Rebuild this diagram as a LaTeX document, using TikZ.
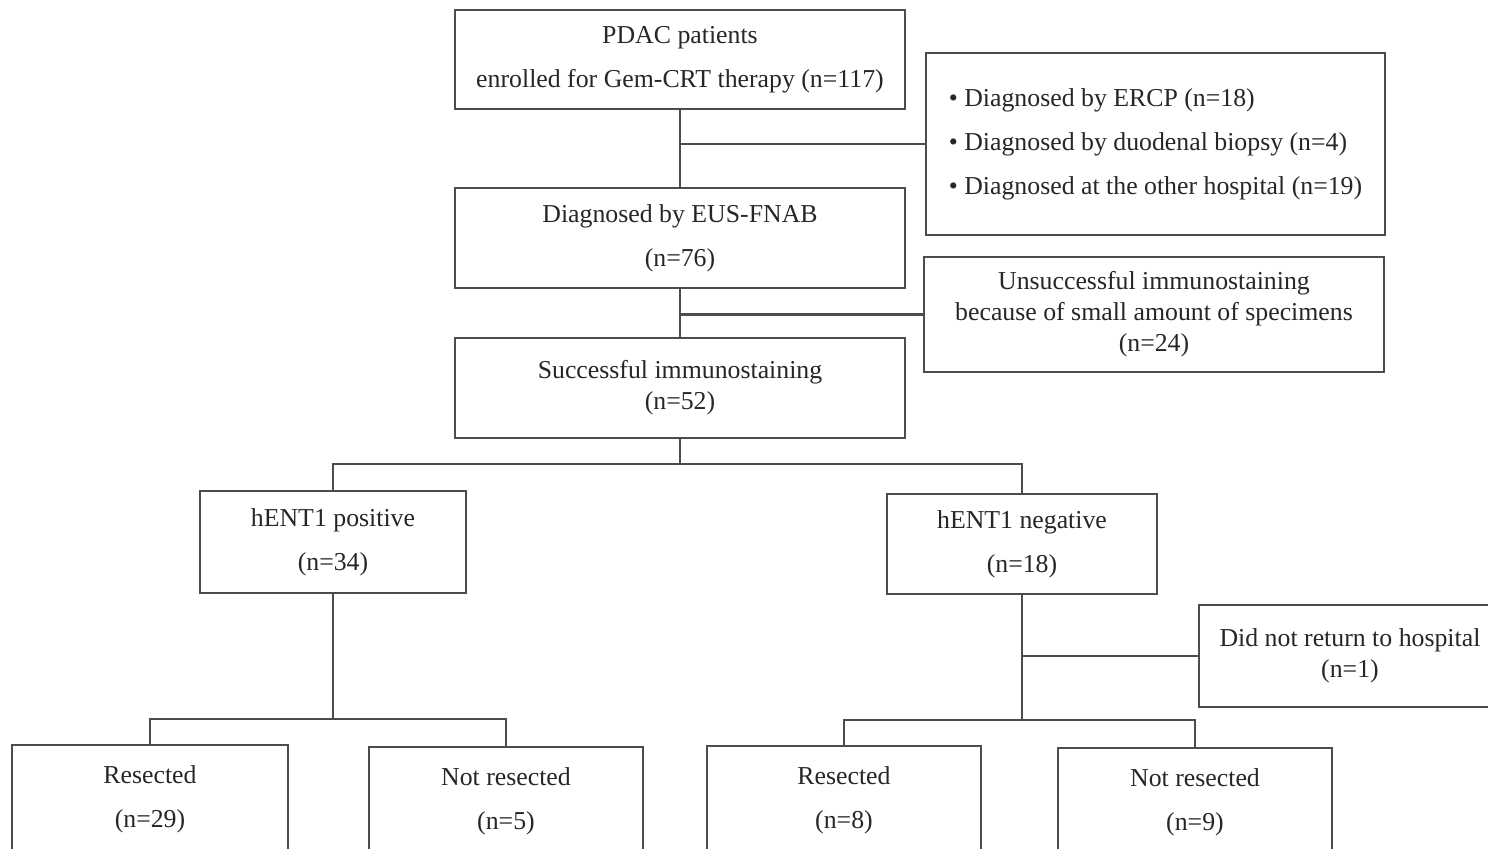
\documentclass[tikz,border=0pt]{standalone}
\usepackage{fontspec}
\setmainfont{Liberation Serif}
\usetikzlibrary{positioning}

\begin{document}
\begin{tikzpicture}[x=0.5pt,y=-0.5pt,
	box/.style={rectangle,draw=black!70,line width=1.3pt,anchor=north west,inner sep=0pt,outer sep=0pt,align=center,text=black!85,font=\fontsize{12.9}{22}\selectfont},
	tight/.style={font=\fontsize{12.9}{15.5}\selectfont},
	link/.style={draw=black!70,line width=1.3pt}]
				\useasboundingbox (0,0) rectangle (1488,849);
				\node (pdac) [box,minimum width=225pt,minimum height=49.5pt] at (455,10) {PDAC patients\\enrolled for Gem-CRT therapy (n=117)};
				\node (other) [box,align=left,minimum width=229.5pt,minimum height=91pt] at (926,53) {\textbullet\ Diagnosed by ERCP (n=18)\\\textbullet\ Diagnosed by duodenal biopsy (n=4)\\\textbullet\ Diagnosed at the other hospital (n=19)};
				\node (eus) [box,minimum width=225pt,minimum height=50pt] at (455,188) {Diagnosed by EUS-FNAB\\(n=76)};
				\node (fail) [box,tight,minimum width=230pt,minimum height=57.5pt] at (924,257) {Unsuccessful immunostaining\\because of small amount of specimens\\(n=24)};
				\node (succ) [box,tight,minimum width=225pt,minimum height=50pt] at (455,338) {Successful immunostaining\\(n=52)};
				\node (pos) [box,minimum width=133pt,minimum height=51pt] at (200,491) {hENT1 positive\\(n=34)};
				\node (neg) [box,minimum width=135pt,minimum height=50pt] at (887,494) {hENT1 negative\\(n=18)};
				\node (lost) [box,tight,minimum width=151pt,minimum height=51pt] at (1199,605) {Did not return to hospital\\(n=1)};
				\node (resp) [box,minimum width=138pt,minimum height=54pt] at (12,745) {Resected\\(n=29)};
				\node (nresp) [box,minimum width=137pt,minimum height=54pt] at (369,747) {Not resected\\(n=5)};
				\node (resn) [box,minimum width=137pt,minimum height=54pt] at (707,746) {Resected\\(n=8)};
				\node (nresn) [box,minimum width=137pt,minimum height=54pt] at (1058,748) {Not resected\\(n=9)};
				\coordinate (split) at (680,464);
				\coordinate (splitp) at (333,719);
				\coordinate (splitn) at (1022,720);
				\draw [link](pdac) -- (eus);
				\draw [link](pdac.south |- other.west) -- (other.west);
				\draw [link](eus) -- (succ);
				\draw [link](eus.south |- fail.west) -- (fail.west);
				\draw [link](succ.south) -- (split);
				\draw [link](pos.north) |- (split) -| (neg.north);
				\draw [link](pos.south) -- (splitp);
				\draw [link](resp.north) |- (splitp) -| (nresp.north);
				\draw [link](neg.south) -- (splitn);
				\draw [link](neg.south |- lost.west) -- (lost.west);
				\draw [link](resn.north) |- (splitn) -| (nresn.north);
			\end{tikzpicture}
\end{document}
